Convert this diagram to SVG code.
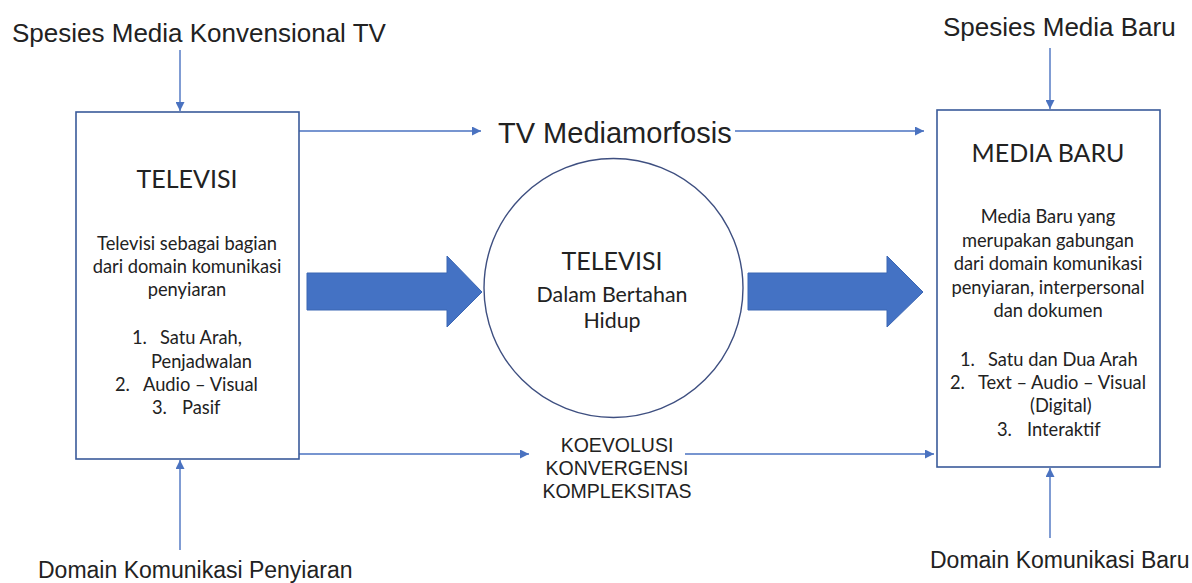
<svg xmlns="http://www.w3.org/2000/svg" width="1192" height="583" viewBox="0 0 1192 583">
<style>
.lbl{font-family:"Liberation Sans",Arial,sans-serif;font-size:26px;fill:#222}
.sm{font-size:23px}
.mid{font-family:"Liberation Sans",Arial,sans-serif;font-size:19.5px;fill:#222}
.ttl{font-family:"Lato","Open Sans",sans-serif;font-size:25px;fill:#222}
.bd{font-family:"Lato","Open Sans",sans-serif;font-size:18.3px;fill:#222}
.box{fill:#fff;stroke:#3A5A9A;stroke-width:1.6}
.con{fill:none;stroke:#4A72C0;stroke-width:1.4}
.blk{fill:#4472C4;stroke:#3B66B3;stroke-width:1}
</style>
<defs>
<marker id="ah" viewBox="0 0 10 10" refX="10" refY="5" markerWidth="9" markerHeight="9" markerUnits="userSpaceOnUse" orient="auto">
<path d="M0,0 L10,5 L0,10 z" fill="#4A72C0"/>
</marker>
</defs>
<rect width="1192" height="583" fill="#fff"/>

<g id="connectors">
<line class="con" x1="180" y1="50" x2="180" y2="111" marker-end="url(#ah)"/>
<line class="con" x1="180" y1="550" x2="180" y2="460" marker-end="url(#ah)"/>
<line class="con" x1="1050" y1="48" x2="1050" y2="109" marker-end="url(#ah)"/>
<line class="con" x1="1050" y1="538" x2="1050" y2="468" marker-end="url(#ah)"/>
<line class="con" x1="299" y1="131" x2="481" y2="131" marker-end="url(#ah)"/>
<line class="con" x1="735" y1="131" x2="924" y2="131" marker-end="url(#ah)"/>
<line class="con" x1="299" y1="454" x2="529" y2="454" marker-end="url(#ah)"/>
<line class="con" x1="685" y1="454" x2="934" y2="454" marker-end="url(#ah)"/>
<path class="blk" d="M307,273 H447 V256 L482,292 L447,327 V310 H307 Z"/>
<path class="blk" d="M748,273 H887 V256 L923,292 L887,327 V310 H748 Z"/>
</g>

<g id="label-spesies-tv"><text class="lbl" x="12" y="42">Spesies Media Konvensional TV</text></g>
<g id="label-domain-penyiaran"><text class="lbl sm" x="38" y="578">Domain Komunikasi Penyiaran</text></g>
<g id="label-spesies-baru"><text class="lbl" x="943" y="36">Spesies Media Baru</text></g>
<g id="label-domain-baru"><text class="lbl sm" x="930" y="568">Domain Komunikasi Baru</text></g>
<g id="label-mediamorfosis"><text class="lbl" x="498" y="143" style="font-size:29px">TV Mediamorfosis</text></g>
<g id="label-koevolusi">
<text class="mid" text-anchor="middle" x="617" y="452">KOEVOLUSI</text>
<text class="mid" text-anchor="middle" x="617" y="475">KONVERGENSI</text>
<text class="mid" text-anchor="middle" x="617" y="498">KOMPLEKSITAS</text>
</g>

<g id="node-televisi">
<rect class="box" x="76" y="112" width="223" height="347"/>
<text class="ttl" text-anchor="middle" x="187" y="188">TELEVISI</text>
<text class="bd" text-anchor="middle" x="187" y="250">Televisi sebagai bagian</text>
<text class="bd" text-anchor="middle" x="187" y="273">dari domain komunikasi</text>
<text class="bd" text-anchor="middle" x="187" y="296">penyiaran</text>
<text class="bd" x="132" y="344">1.</text><text class="bd" x="160" y="344">Satu Arah,</text>
<text class="bd" x="151" y="368">Penjadwalan</text>
<text class="bd" x="115" y="391">2.</text><text class="bd" x="143" y="391">Audio – Visual</text>
<text class="bd" x="152" y="414">3.</text><text class="bd" x="182" y="414">Pasif</text>
</g>

<g id="node-bertahan">
<circle cx="613.5" cy="288" r="129.5" fill="#fff" stroke="#3E4F80" stroke-width="1.4"/>
<text class="ttl" text-anchor="middle" x="612" y="270">TELEVISI</text>
<text class="bd" text-anchor="middle" x="612" y="302" style="font-size:21.4px">Dalam Bertahan</text>
<text class="bd" text-anchor="middle" x="612" y="328" style="font-size:21.4px">Hidup</text>
</g>

<g id="node-media-baru">
<rect class="box" x="937" y="110" width="223" height="357"/>
<text class="ttl" text-anchor="middle" x="1048" y="162">MEDIA BARU</text>
<text class="bd" text-anchor="middle" x="1048" y="223">Media Baru yang</text>
<text class="bd" text-anchor="middle" x="1048" y="247">merupakan gabungan</text>
<text class="bd" text-anchor="middle" x="1048" y="270">dari domain komunikasi</text>
<text class="bd" text-anchor="middle" x="1048" y="294">penyiaran, interpersonal</text>
<text class="bd" text-anchor="middle" x="1048" y="317">dan dokumen</text>
<text class="bd" x="960" y="366">1.</text><text class="bd" x="988" y="366">Satu dan Dua Arah</text>
<text class="bd" x="950" y="389">2.</text><text class="bd" x="978" y="389">Text – Audio – Visual</text>
<text class="bd" x="1030" y="412">(Digital)</text>
<text class="bd" x="997" y="436">3.</text><text class="bd" x="1027" y="436">Interaktif</text>
</g>
</svg>
